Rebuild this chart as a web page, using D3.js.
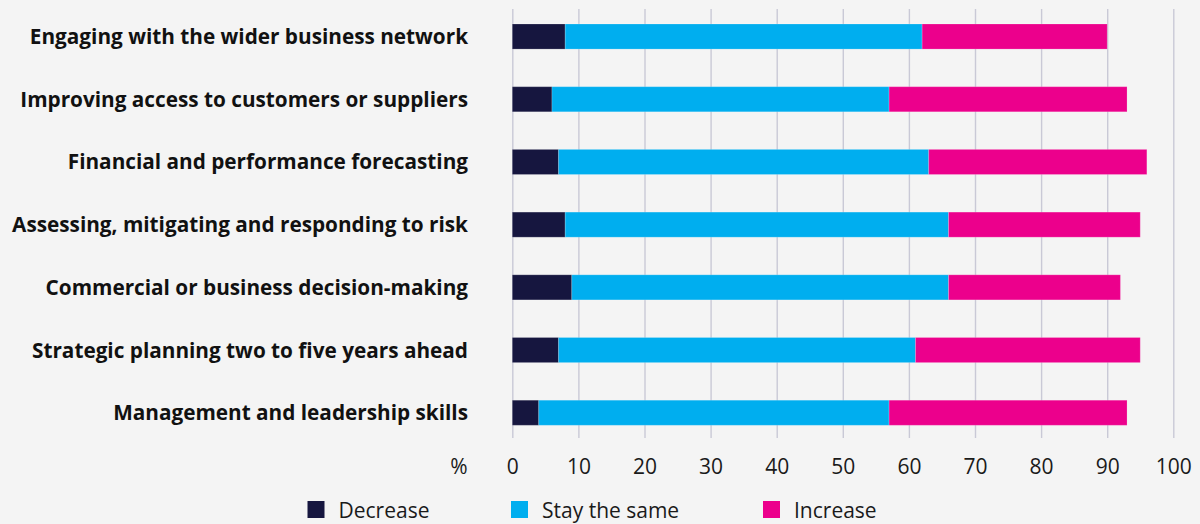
<!DOCTYPE html>
<html>
<head>
<meta charset="utf-8">
<script src="https://cdn.jsdelivr.net/npm/d3@7"></script>
<style>
  html, body { margin: 0; padding: 0; background: #f4f4f4; }
  svg { display: block; }
</style>
</head>
<body>
<script>
const categories = [
  "Engaging with the wider business network",
  "Improving access to customers or suppliers",
  "Financial and performance forecasting",
  "Assessing, mitigating and responding to risk",
  "Commercial or business decision-making",
  "Strategic planning two to five years ahead",
  "Management and leadership skills"
];
const seriesNames = ["Decrease", "Stay the same", "Increase"];
const decreaseValues = [8, 6, 7, 8, 9, 7, 4];
const stayValues     = [54, 51, 56, 58, 57, 54, 53];
const increaseValues = [28, 36, 33, 29, 26, 34, 36];
const tickValues = [0, 10, 20, 30, 40, 50, 60, 70, 80, 90, 100];
const colors = ["#16163f", "#00aeef", "#ec008c"];

const W = 1200, H = 524;
const svg = d3.select("body").append("svg").attr("width", W).attr("height", H);
svg.append("rect").attr("width", W).attr("height", H).attr("fill", "#f4f4f4");

const x = d3.scaleLinear().domain([0, 100]).range([512.3, 1173.3]);
const y = d3.scaleBand().domain(categories).range([5.2, 444.1]).paddingInner(0.6).paddingOuter(0.3);
const color = d3.scaleOrdinal().domain(seriesNames).range(colors);

const gridTop = 9, gridBottom = 438;

// axis with gridlines
const axis = d3.axisBottom(x).tickValues(tickValues).tickSize(-(gridBottom - gridTop)).tickPadding(21);
const gAxis = svg.append("g").attr("transform", `translate(0,${gridBottom})`).call(axis);
gAxis.select(".domain").remove();
gAxis.selectAll(".tick line").attr("stroke", "#c9c9d6").attr("stroke-width", 1.4);
gAxis.selectAll(".tick text")
  .attr("fill", "#1a1a1a")
  .style("font-family", "'Open Sans', 'Noto Sans', sans-serif")
  .style("font-size", "21px")
  .style("font-weight", 400);

svg.append("text")
  .attr("x", 459).attr("y", gridBottom + 21)
  .attr("dy", "0.71em")
  .attr("text-anchor", "middle")
  .attr("fill", "#1a1a1a")
  .style("font-family", "'Open Sans', 'Noto Sans', sans-serif")
  .style("font-size", "21px")
  .text("%");

// stacked data
const rows = categories.map((c, i) => ({
  category: c,
  "Decrease": decreaseValues[i],
  "Stay the same": stayValues[i],
  "Increase": increaseValues[i]
}));
const stacked = d3.stack().keys(seriesNames)(rows);

svg.append("g").selectAll("g")
  .data(stacked)
  .join("g")
  .attr("fill", d => color(d.key))
  .selectAll("rect")
  .data(d => d)
  .join("rect")
  .attr("x", d => x(d[0]))
  .attr("y", d => y(d.data.category))
  .attr("width", d => x(d[1]) - x(d[0]))
  .attr("height", y.bandwidth())
  .attr("stroke", "rgba(255,255,255,0.18)")
  .attr("stroke-width", 1);

// category labels
const labels = svg.append("g").selectAll("text")
  .data(categories)
  .join("text")
  .attr("x", 468)
  .attr("y", d => y(d) + y.bandwidth() / 2)
  .attr("dy", "0.36em")
  .attr("text-anchor", "end")
  .attr("fill", "#111111")
  .style("font-family", "'Open Sans', 'Noto Sans', sans-serif")
  .style("font-size", "18px")
  .style("font-weight", 700)
  .text(d => d);

// fit font size so the longest label spans like the reference (~456px)
const longest = labels.filter(d => d === categories[3]).node();
const wNow = longest.getComputedTextLength();
const fs = 18 * 456 / wNow;
labels.style("font-size", fs + "px");

// legend
const legendX = [307.5, 511, 763];
const lg = svg.append("g").selectAll("g")
  .data(seriesNames)
  .join("g")
  .attr("transform", (d, i) => `translate(${legendX[i]},501)`);
lg.append("rect").attr("width", 17).attr("height", 17).attr("fill", d => color(d));
lg.append("text")
  .attr("x", 31).attr("y", 17)
  .attr("fill", "#1a1a1a")
  .style("font-family", "'Open Sans', 'Noto Sans', sans-serif")
  .style("font-size", "21px")
  .text(d => d);
</script>
</body>
</html>
